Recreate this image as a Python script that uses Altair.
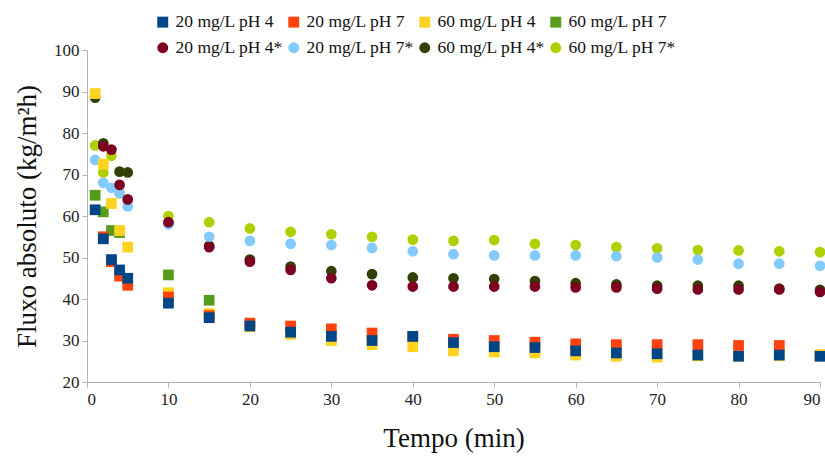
import altair as alt
import pandas as pd

# Time points (min)
t_early = [1, 2, 3, 4, 5]
t_late = [10, 15, 20, 25, 30, 35, 40, 45, 50, 55, 60, 65, 70, 75, 80, 85, 90]
t_all = t_early + t_late

series_names = [
    "20 mg/L pH 4", "20 mg/L pH 7", "60 mg/L pH 4", "60 mg/L pH 7",
    "20 mg/L pH 4*", "20 mg/L pH 7*", "60 mg/L pH 4*", "60 mg/L pH 7*",
]
series_colors = [
    "#004586", "#ff420e", "#ffd320", "#579d1c",
    "#7e0021", "#83caff", "#314004", "#aecf00",
]
series_shapes = ["square"] * 4 + ["circle"] * 4

# Flux values (kg/m²h) per series
s20_ph4 = [61.5, 54.5, 49.5, 47.0, 45.0,
           39.0, 35.5, 33.5, 32.0, 31.0, 30.0, 31.0, 29.5, 28.5, 28.3, 27.5, 27.0,
           26.8, 26.5, 26.2, 26.5, 26.2]
s20_ph7_t = [2, 3, 4, 5] + t_late[:-1]
s20_ph7 = [55.0, 49.0, 45.5, 43.3,
           40.5, 36.0, 34.2, 33.5, 32.8, 31.8, 31.0, 30.3, 30.0, 29.6, 29.2, 29.0,
           29.0, 29.0, 28.8, 28.8]
s60_ph4 = [89.5, 72.5, 63.0, 56.5, 52.5,
           41.5, 36.5, 33.3, 31.5, 30.0, 29.0, 28.5, 27.5, 27.2, 27.0, 26.5, 26.2,
           26.0, 26.3, 26.2, 26.3, 26.6]
s60_ph7_t = [1, 2, 3, 4, 10, 15]
s60_ph7 = [65.0, 61.0, 56.5, 56.0, 45.8, 39.7]
s20_ph4s_t = [2, 3, 4, 5] + t_late
s20_ph4s = [76.8, 76.0, 67.5, 64.0,
            58.5, 52.5, 49.0, 47.0, 45.0, 43.3, 43.0, 43.0, 43.0, 43.0, 42.8, 42.8,
            42.5, 42.3, 42.3, 42.3, 41.7]
s20_ph7s = [73.5, 68.0, 66.8, 65.5, 62.3,
            58.0, 55.0, 54.0, 53.3, 53.0, 52.3, 51.5, 50.8, 50.5, 50.5, 50.5, 50.3,
            50.0, 49.5, 48.5, 48.5, 48.0]
s60_ph4s_t = [1, 2, 4, 5] + t_late
s60_ph4s = [88.5, 77.5, 70.7, 70.5,
            58.2, 52.8, 49.5, 47.8, 46.7, 46.0, 45.2, 45.0, 44.8, 44.3, 43.8, 43.5,
            43.2, 43.2, 43.2, 42.5, 42.2]
s60_ph7s_t = [1, 2, 3, 4] + t_late
s60_ph7s = [77.0, 70.5, 74.5, 65.5,
            60.0, 58.5, 57.0, 56.2, 55.6, 55.0, 54.3, 54.0, 54.2, 53.3, 53.0, 52.5,
            52.2, 51.8, 51.7, 51.5, 51.3]

series_data = [
    (t_all, s20_ph4), (s20_ph7_t, s20_ph7), (t_all, s60_ph4), (s60_ph7_t, s60_ph7),
    (s20_ph4s_t, s20_ph4s), (t_all, s20_ph7s), (s60_ph4s_t, s60_ph4s), (s60_ph7s_t, s60_ph7s),
]

rows = []
for i, (name, (ts, vs)) in enumerate(zip(series_names, series_data)):
    for t, v in zip(ts, vs):
        # earlier series are painted on top
        rows.append({"serie": name, "tempo": t, "fluxo": v, "z": len(series_names) - i})
df = pd.DataFrame(rows)

serif = "Liberation Serif"

axis_style = dict(
    grid=False,
    domainColor="#b3b3b3",
    tickColor="#b3b3b3",
    tickSize=5,
    labelFont=serif,
    labelFontSize=17,
    labelColor="#222222",
    titleFont=serif,
    titleFontSize=27,
    titleFontWeight="normal",
    titleColor="#111111",
)

chart = (
    alt.Chart(df)
    .mark_point(filled=True, opacity=1, size=115, strokeWidth=0)
    .encode(
        x=alt.X(
            "tempo:Q",
            scale=alt.Scale(domain=[0, 90], nice=False),
            axis=alt.Axis(values=list(range(0, 91, 10)), title="Tempo (min)",
                          titlePadding=18, labelPadding=4, **axis_style),
        ),
        y=alt.Y(
            "fluxo:Q",
            scale=alt.Scale(domain=[20, 100], nice=False),
            axis=alt.Axis(values=list(range(20, 101, 10)), title="Fluxo absoluto (kg/m²h)",
                          titlePadding=12, labelPadding=3, **axis_style),
        ),
        color=alt.Color(
            "serie:N",
            scale=alt.Scale(domain=series_names, range=series_colors),
            legend=alt.Legend(
                title=None, orient="none", legendX=67, legendY=-37, columns=4,
                direction="horizontal", labelFont=serif, labelFontSize=17.5,
                labelColor="#111111", symbolSize=120, columnPadding=2,
                rowPadding=7, labelOffset=4, symbolStrokeWidth=0,
            ),
        ),
        shape=alt.Shape(
            "serie:N",
            scale=alt.Scale(domain=series_names, range=series_shapes),
        ),
        order=alt.Order("z:Q"),
    )
    .properties(
        width=733,
        height=332,
        autosize=alt.AutoSizeParams(type="none"),
        padding={"left": 87, "top": 50, "right": 5, "bottom": 74},
    )
    .configure_view(stroke=None)
)

chart.save("out.html", embed_options={"renderer": "svg", "actions": False})
